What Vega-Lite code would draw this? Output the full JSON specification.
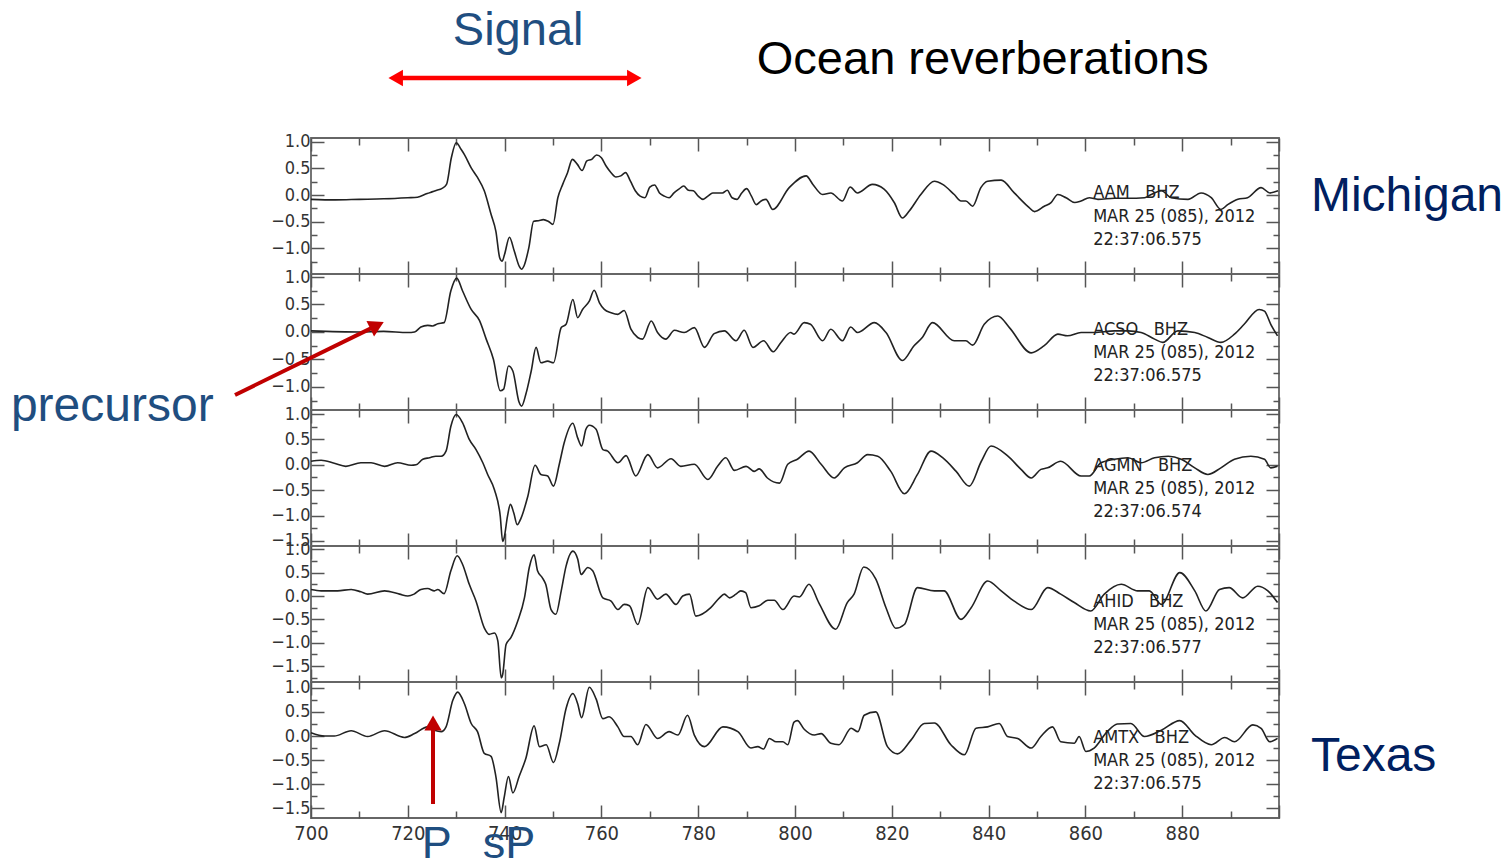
{
"$schema": "https://vega.github.io/schema/vega-lite/v6.json",
"background": "white",
"padding": {"left": 10, "top": 6, "right": 0, "bottom": 0},
"spacing": 0,
"bounds": "flush",
"config": {
 "view": {"stroke": "#666", "strokeWidth": 1.8},
 "axis": {"grid": false, "domain": false, "tickColor": "#555", "tickWidth": 1.5, "tickSize": -13, "labelFont": "Liberation Sans Narrow, DejaVu Sans Condensed, sans-serif", "labelColor": "#333", "labelBound": false, "labelFlush": false, "labelOverlap": false},
 "axisX": {"labelFontSize": 20},
 "axisY": {"labelFontSize": 18}
},
"datasets": {
 "aam": [{"t":700,"v":-0.08},{"t":705,"v":-0.09},{"t":710,"v":-0.08},{"t":715,"v":-0.07},{"t":720,"v":-0.05},{"t":722,"v":-0.04},{"t":724,"v":0.03},{"t":725,"v":0.06},{"t":726,"v":0.09},{"t":727,"v":0.12},{"t":728,"v":0.2},{"t":729,"v":0.7},{"t":730,"v":0.98},{"t":731,"v":0.86},{"t":731.7,"v":0.76},{"t":733.1,"v":0.51},{"t":734.4,"v":0.33},{"t":735.8,"v":0.08},{"t":737.2,"v":-0.36},{"t":738.2,"v":-0.68},{"t":739,"v":-1.18},{"t":739.5,"v":-1.24},{"t":740,"v":-1.11},{"t":741,"v":-0.79},{"t":742,"v":-1.05},{"t":743,"v":-1.33},{"t":743.5,"v":-1.39},{"t":744,"v":-1.33},{"t":745,"v":-0.99},{"t":746,"v":-0.49},{"t":747,"v":-0.48},{"t":748,"v":-0.46},{"t":749,"v":-0.49},{"t":750,"v":-0.55},{"t":751,"v":-0.05},{"t":752,"v":0.2},{"t":753,"v":0.42},{"t":754,"v":0.67},{"t":755,"v":0.58},{"t":756,"v":0.46},{"t":757,"v":0.64},{"t":758,"v":0.67},{"t":759,"v":0.75},{"t":760,"v":0.7},{"t":761,"v":0.54},{"t":762,"v":0.42},{"t":763,"v":0.34},{"t":764,"v":0.36},{"t":765,"v":0.42},{"t":766,"v":0.26},{"t":767,"v":0.08},{"t":768,"v":-0.02},{"t":769,"v":-0.05},{"t":770,"v":0.15},{"t":771,"v":0.19},{"t":772,"v":0.04},{"t":773,"v":-0.02},{"t":774,"v":-0.05},{"t":775,"v":0.04},{"t":776,"v":0.11},{"t":777,"v":0.17},{"t":778,"v":0.09},{"t":779,"v":0.08},{"t":780,"v":-0.02},{"t":781,"v":-0.08},{"t":782,"v":-0.02},{"t":783,"v":0.04},{"t":785,"v":0.04},{"t":786,"v":0.09},{"t":787,"v":-0.05},{"t":788,"v":-0.08},{"t":789,"v":0.04},{"t":790,"v":0.12},{"t":791,"v":-0.02},{"t":792,"v":-0.18},{"t":793,"v":-0.11},{"t":794,"v":-0.08},{"t":795.4,"v":-0.27},{"t":798.8,"v":0.14},{"t":802.3,"v":0.36},{"t":803.7,"v":0.2},{"t":805.7,"v":0.01},{"t":807.4,"v":0.04},{"t":809.8,"v":-0.11},{"t":811.4,"v":0.15},{"t":812.9,"v":0.04},{"t":816,"v":0.2},{"t":818.4,"v":0.11},{"t":820.5,"v":-0.14},{"t":822.2,"v":-0.43},{"t":823.6,"v":-0.3},{"t":826,"v":0.01},{"t":828.8,"v":0.26},{"t":830.5,"v":0.2},{"t":832.9,"v":0.01},{"t":834.3,"v":-0.11},{"t":835.3,"v":-0.11},{"t":836.7,"v":-0.21},{"t":838.4,"v":0.14},{"t":839.8,"v":0.26},{"t":842.6,"v":0.28},{"t":845.3,"v":0.04},{"t":848.1,"v":-0.21},{"t":849.5,"v":-0.31},{"t":851.5,"v":-0.21},{"t":852.9,"v":-0.14},{"t":854.3,"v":0.01},{"t":856,"v":-0.05},{"t":857.8,"v":-0.14},{"t":859.1,"v":-0.11},{"t":860.8,"v":-0.05},{"t":862.6,"v":-0.08},{"t":866,"v":-0.06},{"t":868.8,"v":-0.06},{"t":872.2,"v":-0.05},{"t":873.6,"v":0.01},{"t":875.7,"v":0.08},{"t":877.7,"v":-0.05},{"t":881.2,"v":-0.08},{"t":883.9,"v":0.04},{"t":886,"v":-0.05},{"t":888,"v":-0.27},{"t":889.4,"v":-0.18},{"t":891.5,"v":-0.08},{"t":893.5,"v":-0.05},{"t":896.3,"v":0.14},{"t":898.1,"v":0.04},{"t":899.8,"v":0.08}],
 "acso": [{"t":700,"v":0.02},{"t":710,"v":0},{"t":715,"v":0.01},{"t":720,"v":-0.01},{"t":721.4,"v":0},{"t":722.7,"v":0.09},{"t":724.1,"v":0.12},{"t":725.1,"v":0.11},{"t":726.2,"v":0.15},{"t":727.5,"v":0.17},{"t":728.9,"v":0.75},{"t":730.1,"v":0.98},{"t":731.3,"v":0.75},{"t":733.1,"v":0.41},{"t":734.8,"v":0.21},{"t":736.2,"v":-0.13},{"t":737.7,"v":-0.5},{"t":739.1,"v":-1.07},{"t":739.8,"v":-1.04},{"t":740.8,"v":-0.62},{"t":741.7,"v":-0.71},{"t":743,"v":-1.28},{"t":743.5,"v":-1.35},{"t":744.4,"v":-1.13},{"t":745.5,"v":-0.71},{"t":746.5,"v":-0.28},{"t":747.5,"v":-0.56},{"t":748.9,"v":-0.53},{"t":750.1,"v":-0.56},{"t":751.7,"v":0.08},{"t":752.7,"v":0.14},{"t":754.1,"v":0.59},{"t":755.1,"v":0.26},{"t":756.1,"v":0.41},{"t":757.5,"v":0.56},{"t":758.5,"v":0.76},{"t":759.6,"v":0.53},{"t":760.6,"v":0.41},{"t":762,"v":0.35},{"t":763.4,"v":0.32},{"t":764.7,"v":0.39},{"t":766.1,"v":0.05},{"t":767.5,"v":-0.1},{"t":768.5,"v":-0.13},{"t":770.3,"v":0.2},{"t":771.6,"v":-0.01},{"t":773.3,"v":-0.13},{"t":775.1,"v":0.03},{"t":777.1,"v":-0.01},{"t":779.2,"v":0.08},{"t":781.3,"v":-0.28},{"t":783.3,"v":-0.03},{"t":785.4,"v":0.02},{"t":787.8,"v":-0.16},{"t":789.5,"v":0.03},{"t":791.3,"v":-0.28},{"t":793.5,"v":-0.16},{"t":795.5,"v":-0.36},{"t":797.1,"v":-0.19},{"t":799.1,"v":-0.01},{"t":799.8,"v":-0.04},{"t":801.9,"v":0.17},{"t":803.2,"v":0.14},{"t":805.7,"v":-0.16},{"t":807.4,"v":0.05},{"t":809.8,"v":-0.16},{"t":811.5,"v":0.09},{"t":812.9,"v":-0.01},{"t":816.4,"v":0.17},{"t":818.8,"v":-0.01},{"t":822.2,"v":-0.52},{"t":824.6,"v":-0.25},{"t":826.3,"v":-0.1},{"t":828.4,"v":0.17},{"t":832.9,"v":-0.16},{"t":835.3,"v":-0.16},{"t":836.7,"v":-0.24},{"t":839.1,"v":0.14},{"t":841.9,"v":0.29},{"t":844.3,"v":0.08},{"t":848.8,"v":-0.38},{"t":851.5,"v":-0.25},{"t":854.3,"v":-0.04},{"t":856.3,"v":-0.07},{"t":859.1,"v":-0.01},{"t":861.8,"v":-0.01},{"t":866,"v":0.02},{"t":868.8,"v":0.02},{"t":871.5,"v":-0.01},{"t":874.3,"v":-0.13},{"t":876,"v":-0.19},{"t":879.1,"v":0.02},{"t":882.6,"v":-0.01},{"t":885.3,"v":-0.1},{"t":888,"v":-0.19},{"t":890.8,"v":-0.04},{"t":892.8,"v":0.14},{"t":895.9,"v":0.41},{"t":897,"v":0.38},{"t":898.3,"v":0.14},{"t":899.7,"v":-0.07}],
 "agmn": [{"t":700,"v":0.07},{"t":702.1,"v":0.09},{"t":704.8,"v":0.03},{"t":707.2,"v":-0.03},{"t":710.3,"v":0.04},{"t":712.4,"v":0.04},{"t":715.2,"v":-0.03},{"t":717.9,"v":0.04},{"t":720.7,"v":-0.01},{"t":721.7,"v":0},{"t":723.1,"v":0.11},{"t":724.5,"v":0.14},{"t":725.8,"v":0.17},{"t":726.9,"v":0.17},{"t":727.9,"v":0.27},{"t":728.9,"v":0.76},{"t":730,"v":0.99},{"t":731.3,"v":0.83},{"t":732.7,"v":0.5},{"t":734.1,"v":0.3},{"t":735.5,"v":0.04},{"t":736.5,"v":-0.19},{"t":737.9,"v":-0.49},{"t":739.1,"v":-1.01},{"t":739.6,"v":-1.51},{"t":739.9,"v":-1.44},{"t":740.6,"v":-1.01},{"t":741.2,"v":-0.78},{"t":741.9,"v":-0.95},{"t":742.6,"v":-1.18},{"t":743.4,"v":-1.05},{"t":744.8,"v":-0.62},{"t":746.3,"v":-0.01},{"t":747.5,"v":-0.19},{"t":748.9,"v":-0.22},{"t":750.1,"v":-0.42},{"t":751.3,"v":0.01},{"t":752.3,"v":0.43},{"t":754.1,"v":0.82},{"t":755.1,"v":0.53},{"t":755.9,"v":0.37},{"t":756.8,"v":0.7},{"t":757.5,"v":0.78},{"t":758.9,"v":0.7},{"t":760.3,"v":0.3},{"t":761.3,"v":0.27},{"t":763.4,"v":0.04},{"t":765.1,"v":0.18},{"t":767.1,"v":-0.22},{"t":769.6,"v":0.2},{"t":771.6,"v":-0.06},{"t":774.4,"v":0.12},{"t":776.4,"v":-0.03},{"t":779.2,"v":0.01},{"t":782,"v":-0.29},{"t":784,"v":-0.03},{"t":785.7,"v":0.14},{"t":787.5,"v":-0.11},{"t":789.9,"v":-0.03},{"t":791.6,"v":-0.13},{"t":792.6,"v":-0.08},{"t":794.3,"v":-0.26},{"t":796.8,"v":-0.36},{"t":798.5,"v":0.01},{"t":800.5,"v":0.11},{"t":802.9,"v":0.27},{"t":805.4,"v":0.01},{"t":808.1,"v":-0.26},{"t":810.2,"v":-0.06},{"t":812.9,"v":0.04},{"t":815,"v":0.2},{"t":817.1,"v":0.17},{"t":819.8,"v":-0.13},{"t":822.6,"v":-0.57},{"t":825.3,"v":-0.19},{"t":828.1,"v":0.27},{"t":830.5,"v":0.14},{"t":833.3,"v":-0.13},{"t":836,"v":-0.42},{"t":838.5,"v":0.07},{"t":840.5,"v":0.37},{"t":844,"v":0.17},{"t":846.7,"v":-0.09},{"t":848.8,"v":-0.26},{"t":850.8,"v":-0.09},{"t":852.2,"v":-0.06},{"t":854.9,"v":0.07},{"t":859.1,"v":-0.22},{"t":860.8,"v":-0.22},{"t":863.2,"v":0.04},{"t":866,"v":0.11},{"t":868.8,"v":0.14},{"t":871.5,"v":0.04},{"t":874.3,"v":0.14},{"t":877.1,"v":0.17},{"t":879.8,"v":0.11},{"t":882.6,"v":-0.06},{"t":885.3,"v":-0.19},{"t":888,"v":-0.06},{"t":890.8,"v":0.11},{"t":894.2,"v":0.17},{"t":897,"v":0.11},{"t":898.3,"v":-0.06},{"t":899.7,"v":-0.03}],
 "ahid": [{"t":700,"v":0.14},{"t":702.1,"v":0.11},{"t":705.5,"v":0.11},{"t":708.3,"v":0.14},{"t":710.3,"v":0.09},{"t":711.7,"v":0.04},{"t":715.2,"v":0.11},{"t":718.3,"v":0.04},{"t":720,"v":0},{"t":721.3,"v":0.04},{"t":722.7,"v":0.14},{"t":724.1,"v":0.16},{"t":725.5,"v":0.11},{"t":726.2,"v":0.14},{"t":727.5,"v":0.05},{"t":728.9,"v":0.54},{"t":730.2,"v":0.86},{"t":731.3,"v":0.68},{"t":732.7,"v":0.25},{"t":734.1,"v":-0.11},{"t":735.8,"v":-0.68},{"t":736.8,"v":-0.82},{"t":737.9,"v":-0.79},{"t":738.6,"v":-0.96},{"t":739.3,"v":-1.75},{"t":739.6,"v":-1.68},{"t":740.3,"v":-1.04},{"t":741.3,"v":-0.89},{"t":742.7,"v":-0.54},{"t":744.1,"v":-0.04},{"t":745.1,"v":0.61},{"t":746.1,"v":0.88},{"t":746.8,"v":0.54},{"t":747.8,"v":0.39},{"t":748.5,"v":0.25},{"t":749.6,"v":-0.29},{"t":750.6,"v":-0.39},{"t":751.7,"v":0.11},{"t":752.7,"v":0.64},{"t":754.1,"v":0.96},{"t":755.1,"v":0.79},{"t":755.8,"v":0.46},{"t":757.2,"v":0.61},{"t":758.2,"v":0.54},{"t":760.3,"v":-0.04},{"t":762,"v":-0.11},{"t":763.4,"v":-0.29},{"t":764.7,"v":-0.18},{"t":765.8,"v":-0.21},{"t":767.5,"v":-0.61},{"t":769.6,"v":0.18},{"t":771.6,"v":-0.07},{"t":773.3,"v":0.04},{"t":775.4,"v":-0.18},{"t":776.8,"v":0},{"t":778.2,"v":0.04},{"t":779.5,"v":-0.43},{"t":782.6,"v":-0.25},{"t":784.4,"v":-0.04},{"t":785.4,"v":0.04},{"t":786.5,"v":-0.04},{"t":787.8,"v":0.04},{"t":788.8,"v":0.11},{"t":789.8,"v":0.07},{"t":790.9,"v":-0.25},{"t":792.6,"v":-0.21},{"t":794.4,"v":-0.09},{"t":795.7,"v":-0.09},{"t":797.5,"v":-0.29},{"t":799.8,"v":0},{"t":800.9,"v":-0.02},{"t":802.9,"v":0.25},{"t":804.9,"v":-0.14},{"t":808.4,"v":-0.71},{"t":810.8,"v":-0.14},{"t":812.2,"v":0.04},{"t":814.2,"v":0.62},{"t":816.7,"v":0.36},{"t":818.8,"v":-0.25},{"t":820.8,"v":-0.69},{"t":822.6,"v":-0.61},{"t":825.3,"v":0.18},{"t":828.8,"v":0.11},{"t":830.8,"v":0.11},{"t":834.3,"v":-0.5},{"t":836.4,"v":-0.25},{"t":839.8,"v":0.32},{"t":842.6,"v":0.11},{"t":845.3,"v":-0.11},{"t":848.8,"v":-0.29},{"t":852.2,"v":0.18},{"t":854.9,"v":0.04},{"t":857.7,"v":-0.14},{"t":861.1,"v":-0.32},{"t":863.9,"v":0.04},{"t":867.4,"v":0.25},{"t":870.8,"v":0.11},{"t":873.2,"v":0.11},{"t":875.7,"v":-0.18},{"t":879.5,"v":0.5},{"t":882.6,"v":0.11},{"t":884.9,"v":-0.32},{"t":887.7,"v":0.14},{"t":889.7,"v":0.18},{"t":892.5,"v":-0.04},{"t":895.6,"v":0.21},{"t":897.7,"v":0.11},{"t":899.7,"v":-0.14}],
 "amtx": [{"t":700,"v":0.07},{"t":702.8,"v":0},{"t":704.8,"v":0},{"t":708.3,"v":0.11},{"t":711.7,"v":-0.01},{"t":715.2,"v":0.11},{"t":719.3,"v":-0.03},{"t":721.4,"v":0.05},{"t":724.1,"v":0.19},{"t":725.5,"v":0.12},{"t":726.9,"v":0.09},{"t":727.9,"v":0.19},{"t":729.3,"v":0.74},{"t":730.3,"v":0.91},{"t":731.7,"v":0.67},{"t":733.1,"v":0.26},{"t":734.4,"v":0.09},{"t":735.8,"v":-0.36},{"t":737.2,"v":-0.42},{"t":738.2,"v":-0.84},{"t":739.3,"v":-1.59},{"t":739.9,"v":-1.28},{"t":740.8,"v":-0.84},{"t":741.7,"v":-1.18},{"t":743,"v":-0.84},{"t":744.4,"v":-0.46},{"t":746.1,"v":0.21},{"t":747.2,"v":-0.22},{"t":748.6,"v":-0.18},{"t":750.1,"v":-0.55},{"t":751.3,"v":-0.15},{"t":752.7,"v":0.57},{"t":754.1,"v":0.88},{"t":755.1,"v":0.67},{"t":755.9,"v":0.38},{"t":757.5,"v":1.01},{"t":758.9,"v":0.77},{"t":760.3,"v":0.36},{"t":761.6,"v":0.4},{"t":763.4,"v":0.19},{"t":764.7,"v":-0.01},{"t":766.1,"v":-0.01},{"t":767.5,"v":-0.18},{"t":769.2,"v":0.24},{"t":771.6,"v":-0.05},{"t":774,"v":0.09},{"t":775.8,"v":0.02},{"t":777.8,"v":0.43},{"t":779.2,"v":0.02},{"t":781.3,"v":-0.22},{"t":785.1,"v":0.19},{"t":788.2,"v":0.09},{"t":790.9,"v":-0.25},{"t":792.3,"v":-0.22},{"t":793.5,"v":-0.27},{"t":794.7,"v":-0.05},{"t":796.1,"v":-0.12},{"t":797.5,"v":-0.12},{"t":798.5,"v":-0.18},{"t":799.8,"v":0.29},{"t":800.5,"v":0.32},{"t":801.9,"v":0.14},{"t":804,"v":0.02},{"t":805.4,"v":0.05},{"t":807.4,"v":-0.15},{"t":809.1,"v":-0.18},{"t":811.6,"v":0.16},{"t":813,"v":0.09},{"t":814.3,"v":0.43},{"t":816.7,"v":0.5},{"t":819.1,"v":-0.22},{"t":821.2,"v":-0.37},{"t":824,"v":-0.08},{"t":826.7,"v":0.26},{"t":828.8,"v":0.27},{"t":832.2,"v":-0.18},{"t":835,"v":-0.39},{"t":837.4,"v":0.16},{"t":839.8,"v":0.19},{"t":842.2,"v":0.26},{"t":843.9,"v":-0.01},{"t":846,"v":-0.05},{"t":848.8,"v":-0.25},{"t":850.8,"v":-0.01},{"t":853.2,"v":0.19},{"t":854.9,"v":-0.12},{"t":857.7,"v":-0.15},{"t":858.7,"v":-0.01},{"t":860.1,"v":-0.32},{"t":861.8,"v":-0.25},{"t":864.5,"v":0.09},{"t":866.6,"v":0.25},{"t":869.4,"v":0.26},{"t":872.2,"v":-0.01},{"t":875.7,"v":0.12},{"t":879.5,"v":0.32},{"t":882.6,"v":0.02},{"t":886,"v":-0.18},{"t":888.8,"v":-0.03},{"t":890.8,"v":-0.12},{"t":894.6,"v":0.23},{"t":896.3,"v":0.16},{"t":898.1,"v":-0.12},{"t":899.7,"v":-0.05}]
},
"vconcat": [
 {
  "width": 968, "height": 136,
  "encoding": {
   "x": {"field": "t", "type": "quantitative", "scale": {"domain": [700, 900], "nice": false, "zero": false}, "axis": null},
   "y": {"field": "v", "type": "quantitative", "scale": {"domain": [-1.48, 1.07], "nice": false, "zero": false}, "axis": null}
  },
  "layer": [
   {"data": {"name": "aam"}, "mark": {"type": "line", "color": "#222", "strokeWidth": 1.6, "interpolate": "monotone"},
    "encoding": {
     "x": {"field": "t", "type": "quantitative", "scale": {"domain": [700, 900], "nice": false, "zero": false}, "axis": {"orient": "bottom", "title": null, "values": [700,710,720,730,740,750,760,770,780,790,800,810,820,830,840,850,860,870,880,890,900], "labels": false, "tickDash": {"condition": {"test": "datum.value % 20 !== 0", "value": [7, 30]}, "value": []}}},
     "y": {"field": "v", "type": "quantitative", "scale": {"domain": [-1.48, 1.07], "nice": false, "zero": false}, "axis": {"orient": "left", "title": null, "values": [-1.25,-1,-0.75,-0.5,-0.25,0,0.25,0.5,0.75,1], "format": ".1f", "labelPadding": 14, "labelExpr": "(datum.value*4) % 2 === 0 ? datum.label : ''", "tickDash": {"condition": {"test": "(datum.value*4) % 2 !== 0", "value": [6, 30]}, "value": []}}}
    }},
   {"data": {"values": [{"t": 861.6, "v": 0.04, "label": "AAM\u00a0\u00a0\u00a0BHZ"}, {"t": 861.6, "v": -0.41, "label": "MAR\u00a025\u00a0(085),\u00a02012"}, {"t": 861.6, "v": -0.84, "label": "22:37:06.575"}]},
    "mark": {"type": "text", "align": "left", "baseline": "middle", "font": "DejaVu Sans Condensed, sans-serif", "fontSize": 18, "color": "#222"},
    "encoding": {
     "x": {"field": "t", "type": "quantitative", "scale": {"domain": [700, 900], "nice": false, "zero": false}, "axis": {"orient": "top", "title": null, "values": [700,710,720,730,740,750,760,770,780,790,800,810,820,830,840,850,860,870,880,890,900], "labels": false, "tickDash": {"condition": {"test": "datum.value % 20 !== 0", "value": [7, 30]}, "value": []}}},
     "y": {"field": "v", "type": "quantitative", "scale": {"domain": [-1.48, 1.07], "nice": false, "zero": false}, "axis": {"orient": "right", "title": null, "values": [-1.25,-1,-0.75,-0.5,-0.25,0,0.25,0.5,0.75,1], "labels": false, "tickDash": {"condition": {"test": "(datum.value*4) % 2 !== 0", "value": [6, 30]}, "value": []}}},
     "text": {"field": "label"}
    }},
   {"data": {"values": [{"t": 717.5, "v": 2.195, "t2": 766.8, "v2": 2.195}]}, "mark": {"type": "rule", "color": "#FF0000", "strokeWidth": 4.5},
    "encoding": {"x2": {"field": "t2"}, "y2": {"field": "v2"}}},
   {"data": {"values": [{"t": 717.5, "v": 2.195, "dir": "l"}, {"t": 766.8, "v": 2.195, "dir": "r"}]}, "mark": {"type": "point", "filled": true, "opacity": 1, "color": "#FF0000", "size": 280},
    "encoding": {"shape": {"field": "dir", "type": "nominal", "scale": {"domain": ["l", "r"], "range": ["triangle-left", "triangle-right"]}, "legend": null}}},
   {"data": {"values": [{"t": 742.8, "v": 2.81, "label": "Signal"}]}, "mark": {"type": "text", "align": "center", "baseline": "alphabetic", "font": "Liberation Sans, Arial, sans-serif", "fontSize": 47, "color": "#1F4E80"},
    "encoding": {"text": {"field": "label"}}},
   {"data": {"values": [{"t": 838.8, "v": 2.27, "label": "Ocean reverberations"}]}, "mark": {"type": "text", "align": "center", "baseline": "alphabetic", "font": "Liberation Sans, Arial, sans-serif", "fontSize": 47, "color": "#000000"},
    "encoding": {"text": {"field": "label"}}},
   {"data": {"values": [{"t": 906.6, "v": -0.30, "label": "Michigan"}]}, "mark": {"type": "text", "align": "left", "baseline": "alphabetic", "font": "Liberation Sans, Arial, sans-serif", "fontSize": 48, "color": "#002060"},
    "encoding": {"text": {"field": "label"}}}
  ],
  "resolve": {"axis": {"x": "independent", "y": "independent"}}
 },
 {
  "width": 968, "height": 136,
  "encoding": {
   "x": {"field": "t", "type": "quantitative", "scale": {"domain": [700, 900], "nice": false, "zero": false}, "axis": null},
   "y": {"field": "v", "type": "quantitative", "scale": {"domain": [-1.42, 1.055], "nice": false, "zero": false}, "axis": null}
  },
  "layer": [
   {"data": {"name": "acso"}, "mark": {"type": "line", "color": "#222", "strokeWidth": 1.6, "interpolate": "monotone"},
    "encoding": {
     "x": {"field": "t", "type": "quantitative", "scale": {"domain": [700, 900], "nice": false, "zero": false}, "axis": {"orient": "bottom", "title": null, "values": [700,710,720,730,740,750,760,770,780,790,800,810,820,830,840,850,860,870,880,890,900], "labels": false, "tickDash": {"condition": {"test": "datum.value % 20 !== 0", "value": [7, 30]}, "value": []}}},
     "y": {"field": "v", "type": "quantitative", "scale": {"domain": [-1.42, 1.055], "nice": false, "zero": false}, "axis": {"orient": "left", "title": null, "values": [-1.25,-1,-0.75,-0.5,-0.25,0,0.25,0.5,0.75,1], "format": ".1f", "labelPadding": 14, "labelExpr": "(datum.value*4) % 2 === 0 ? datum.label : ''", "tickDash": {"condition": {"test": "(datum.value*4) % 2 !== 0", "value": [6, 30]}, "value": []}}}
    }},
   {"data": {"values": [{"t": 861.6, "v": 0.036, "label": "ACSO\u00a0\u00a0\u00a0BHZ"}, {"t": 861.6, "v": -0.38, "label": "MAR\u00a025\u00a0(085),\u00a02012"}, {"t": 861.6, "v": -0.80, "label": "22:37:06.575"}]},
    "mark": {"type": "text", "align": "left", "baseline": "middle", "font": "DejaVu Sans Condensed, sans-serif", "fontSize": 18, "color": "#222"},
    "encoding": {
     "x": {"field": "t", "type": "quantitative", "scale": {"domain": [700, 900], "nice": false, "zero": false}, "axis": {"orient": "top", "title": null, "values": [700,710,720,730,740,750,760,770,780,790,800,810,820,830,840,850,860,870,880,890,900], "labels": false, "tickDash": {"condition": {"test": "datum.value % 20 !== 0", "value": [7, 30]}, "value": []}}},
     "y": {"field": "v", "type": "quantitative", "scale": {"domain": [-1.42, 1.055], "nice": false, "zero": false}, "axis": {"orient": "right", "title": null, "values": [-1.25,-1,-0.75,-0.5,-0.25,0,0.25,0.5,0.75,1], "labels": false, "tickDash": {"condition": {"test": "(datum.value*4) % 2 !== 0", "value": [6, 30]}, "value": []}}},
     "text": {"field": "label"}
    }},
   {"data": {"values": [{"t": 684.3, "v": -1.146, "t2": 713.64, "v2": 0.12}]}, "mark": {"type": "rule", "color": "#C00000", "strokeWidth": 4},
    "encoding": {"x2": {"field": "t2"}, "y2": {"field": "v2"}}},
   {"data": {"values": [{"t": 713.64, "v": 0.12}]}, "mark": {"type": "point", "shape": "triangle-right", "angle": -26, "filled": true, "opacity": 1, "color": "#C00000", "size": 300}},
   {"data": {"values": [{"t": 638.0, "v": -1.62, "label": "precursor"}]}, "mark": {"type": "text", "align": "left", "baseline": "alphabetic", "font": "Liberation Sans, Arial, sans-serif", "fontSize": 48, "color": "#1F4E80"},
    "encoding": {"text": {"field": "label"}}}
  ],
  "resolve": {"axis": {"x": "independent", "y": "independent"}}
 },
 {
  "width": 968, "height": 136,
  "encoding": {
   "x": {"field": "t", "type": "quantitative", "scale": {"domain": [700, 900], "nice": false, "zero": false}, "axis": null},
   "y": {"field": "v", "type": "quantitative", "scale": {"domain": [-1.6, 1.08], "nice": false, "zero": false}, "axis": null}
  },
  "layer": [
   {"data": {"name": "agmn"}, "mark": {"type": "line", "color": "#222", "strokeWidth": 1.6, "interpolate": "monotone"},
    "encoding": {
     "x": {"field": "t", "type": "quantitative", "scale": {"domain": [700, 900], "nice": false, "zero": false}, "axis": {"orient": "bottom", "title": null, "values": [700,710,720,730,740,750,760,770,780,790,800,810,820,830,840,850,860,870,880,890,900], "labels": false, "tickDash": {"condition": {"test": "datum.value % 20 !== 0", "value": [7, 30]}, "value": []}}},
     "y": {"field": "v", "type": "quantitative", "scale": {"domain": [-1.6, 1.08], "nice": false, "zero": false}, "axis": {"orient": "left", "title": null, "values": [-1.5,-1.25,-1,-0.75,-0.5,-0.25,0,0.25,0.5,0.75,1], "format": ".1f", "labelPadding": 14, "labelExpr": "(datum.value*4) % 2 === 0 ? datum.label : ''", "tickDash": {"condition": {"test": "(datum.value*4) % 2 !== 0", "value": [6, 30]}, "value": []}}}
    }},
   {"data": {"values": [{"t": 861.6, "v": -0.02, "label": "AGMN\u00a0\u00a0\u00a0BHZ"}, {"t": 861.6, "v": -0.48, "label": "MAR\u00a025\u00a0(085),\u00a02012"}, {"t": 861.6, "v": -0.93, "label": "22:37:06.574"}]},
    "mark": {"type": "text", "align": "left", "baseline": "middle", "font": "DejaVu Sans Condensed, sans-serif", "fontSize": 18, "color": "#222"},
    "encoding": {
     "x": {"field": "t", "type": "quantitative", "scale": {"domain": [700, 900], "nice": false, "zero": false}, "axis": {"orient": "top", "title": null, "values": [700,710,720,730,740,750,760,770,780,790,800,810,820,830,840,850,860,870,880,890,900], "labels": false, "tickDash": {"condition": {"test": "datum.value % 20 !== 0", "value": [7, 30]}, "value": []}}},
     "y": {"field": "v", "type": "quantitative", "scale": {"domain": [-1.6, 1.08], "nice": false, "zero": false}, "axis": {"orient": "right", "title": null, "values": [-1.5,-1.25,-1,-0.75,-0.5,-0.25,0,0.25,0.5,0.75,1], "labels": false, "tickDash": {"condition": {"test": "(datum.value*4) % 2 !== 0", "value": [6, 30]}, "value": []}}},
     "text": {"field": "label"}
    }}
  ],
  "resolve": {"axis": {"x": "independent", "y": "independent"}}
 },
 {
  "width": 968, "height": 136,
  "encoding": {
   "x": {"field": "t", "type": "quantitative", "scale": {"domain": [700, 900], "nice": false, "zero": false}, "axis": null},
   "y": {"field": "v", "type": "quantitative", "scale": {"domain": [-1.84, 1.07], "nice": false, "zero": false}, "axis": null}
  },
  "layer": [
   {"data": {"name": "ahid"}, "mark": {"type": "line", "color": "#222", "strokeWidth": 1.6, "interpolate": "monotone"},
    "encoding": {
     "x": {"field": "t", "type": "quantitative", "scale": {"domain": [700, 900], "nice": false, "zero": false}, "axis": {"orient": "bottom", "title": null, "values": [700,710,720,730,740,750,760,770,780,790,800,810,820,830,840,850,860,870,880,890,900], "labels": false, "tickDash": {"condition": {"test": "datum.value % 20 !== 0", "value": [7, 30]}, "value": []}}},
     "y": {"field": "v", "type": "quantitative", "scale": {"domain": [-1.84, 1.07], "nice": false, "zero": false}, "axis": {"orient": "left", "title": null, "values": [-1.75,-1.5,-1.25,-1,-0.75,-0.5,-0.25,0,0.25,0.5,0.75,1], "format": ".1f", "labelPadding": 14, "labelExpr": "(datum.value*4) % 2 === 0 ? datum.label : ''", "tickDash": {"condition": {"test": "(datum.value*4) % 2 !== 0", "value": [6, 30]}, "value": []}}}
    }},
   {"data": {"values": [{"t": 861.6, "v": -0.13, "label": "AHID\u00a0\u00a0\u00a0BHZ"}, {"t": 861.6, "v": -0.62, "label": "MAR\u00a025\u00a0(085),\u00a02012"}, {"t": 861.6, "v": -1.11, "label": "22:37:06.577"}]},
    "mark": {"type": "text", "align": "left", "baseline": "middle", "font": "DejaVu Sans Condensed, sans-serif", "fontSize": 18, "color": "#222"},
    "encoding": {
     "x": {"field": "t", "type": "quantitative", "scale": {"domain": [700, 900], "nice": false, "zero": false}, "axis": {"orient": "top", "title": null, "values": [700,710,720,730,740,750,760,770,780,790,800,810,820,830,840,850,860,870,880,890,900], "labels": false, "tickDash": {"condition": {"test": "datum.value % 20 !== 0", "value": [7, 30]}, "value": []}}},
     "y": {"field": "v", "type": "quantitative", "scale": {"domain": [-1.84, 1.07], "nice": false, "zero": false}, "axis": {"orient": "right", "title": null, "values": [-1.75,-1.5,-1.25,-1,-0.75,-0.5,-0.25,0,0.25,0.5,0.75,1], "labels": false, "tickDash": {"condition": {"test": "(datum.value*4) % 2 !== 0", "value": [6, 30]}, "value": []}}},
     "text": {"field": "label"}
    }}
  ],
  "resolve": {"axis": {"x": "independent", "y": "independent"}}
 },
 {
  "width": 968, "height": 136,
  "encoding": {
   "x": {"field": "t", "type": "quantitative", "scale": {"domain": [700, 900], "nice": false, "zero": false}, "axis": null},
   "y": {"field": "v", "type": "quantitative", "scale": {"domain": [-1.7, 1.12], "nice": false, "zero": false}, "axis": null}
  },
  "layer": [
   {"data": {"name": "amtx"}, "mark": {"type": "line", "color": "#222", "strokeWidth": 1.6, "interpolate": "monotone"},
    "encoding": {
     "x": {"field": "t", "type": "quantitative", "scale": {"domain": [700, 900], "nice": false, "zero": false}, "axis": {"orient": "bottom", "title": null, "values": [700,710,720,730,740,750,760,770,780,790,800,810,820,830,840,850,860,870,880,890,900], "format": "d", "labelPadding": 18, "labelExpr": "datum.value % 20 === 0 && datum.value < 900 ? datum.label : ''", "tickDash": {"condition": {"test": "datum.value % 20 !== 0", "value": [7, 30]}, "value": []}}},
     "y": {"field": "v", "type": "quantitative", "scale": {"domain": [-1.7, 1.12], "nice": false, "zero": false}, "axis": {"orient": "left", "title": null, "values": [-1.5,-1.25,-1,-0.75,-0.5,-0.25,0,0.25,0.5,0.75,1], "format": ".1f", "labelPadding": 14, "labelExpr": "(datum.value*4) % 2 === 0 ? datum.label : ''", "tickDash": {"condition": {"test": "(datum.value*4) % 2 !== 0", "value": [6, 30]}, "value": []}}}
    }},
   {"data": {"values": [{"t": 861.6, "v": -0.04, "label": "AMTX\u00a0\u00a0\u00a0BHZ"}, {"t": 861.6, "v": -0.52, "label": "MAR\u00a025\u00a0(085),\u00a02012"}, {"t": 861.6, "v": -1.0, "label": "22:37:06.575"}]},
    "mark": {"type": "text", "align": "left", "baseline": "middle", "font": "DejaVu Sans Condensed, sans-serif", "fontSize": 18, "color": "#222"},
    "encoding": {
     "x": {"field": "t", "type": "quantitative", "scale": {"domain": [700, 900], "nice": false, "zero": false}, "axis": {"orient": "top", "title": null, "values": [700,710,720,730,740,750,760,770,780,790,800,810,820,830,840,850,860,870,880,890,900], "labels": false, "tickDash": {"condition": {"test": "datum.value % 20 !== 0", "value": [7, 30]}, "value": []}}},
     "y": {"field": "v", "type": "quantitative", "scale": {"domain": [-1.7, 1.12], "nice": false, "zero": false}, "axis": {"orient": "right", "title": null, "values": [-1.5,-1.25,-1,-0.75,-0.5,-0.25,0,0.25,0.5,0.75,1], "labels": false, "tickDash": {"condition": {"test": "(datum.value*4) % 2 !== 0", "value": [6, 30]}, "value": []}}},
     "text": {"field": "label"}
    }},
   {"data": {"values": [{"t": 725.21, "v": -1.41, "t2": 725.21, "v2": 0.27}]}, "mark": {"type": "rule", "color": "#C00000", "strokeWidth": 4},
    "encoding": {"x2": {"field": "t2"}, "y2": {"field": "v2"}}},
   {"data": {"values": [{"t": 725.21, "v": 0.27}]}, "mark": {"type": "point", "shape": "triangle-up", "filled": true, "opacity": 1, "color": "#C00000", "size": 300}},
   {"data": {"values": [{"t": 726.0, "v": -2.53, "label": "P"}, {"t": 740.9, "v": -2.53, "label": "sP"}]}, "mark": {"type": "text", "align": "center", "baseline": "alphabetic", "font": "Liberation Sans, Arial, sans-serif", "fontSize": 45, "color": "#1F4E80"},
    "encoding": {"text": {"field": "label"}}},
   {"data": {"values": [{"t": 906.6, "v": -0.725, "label": "Texas"}]}, "mark": {"type": "text", "align": "left", "baseline": "alphabetic", "font": "Liberation Sans, Arial, sans-serif", "fontSize": 48, "color": "#002060"},
    "encoding": {"text": {"field": "label"}}}
  ],
  "resolve": {"axis": {"x": "independent", "y": "independent"}}
 }
]
}
